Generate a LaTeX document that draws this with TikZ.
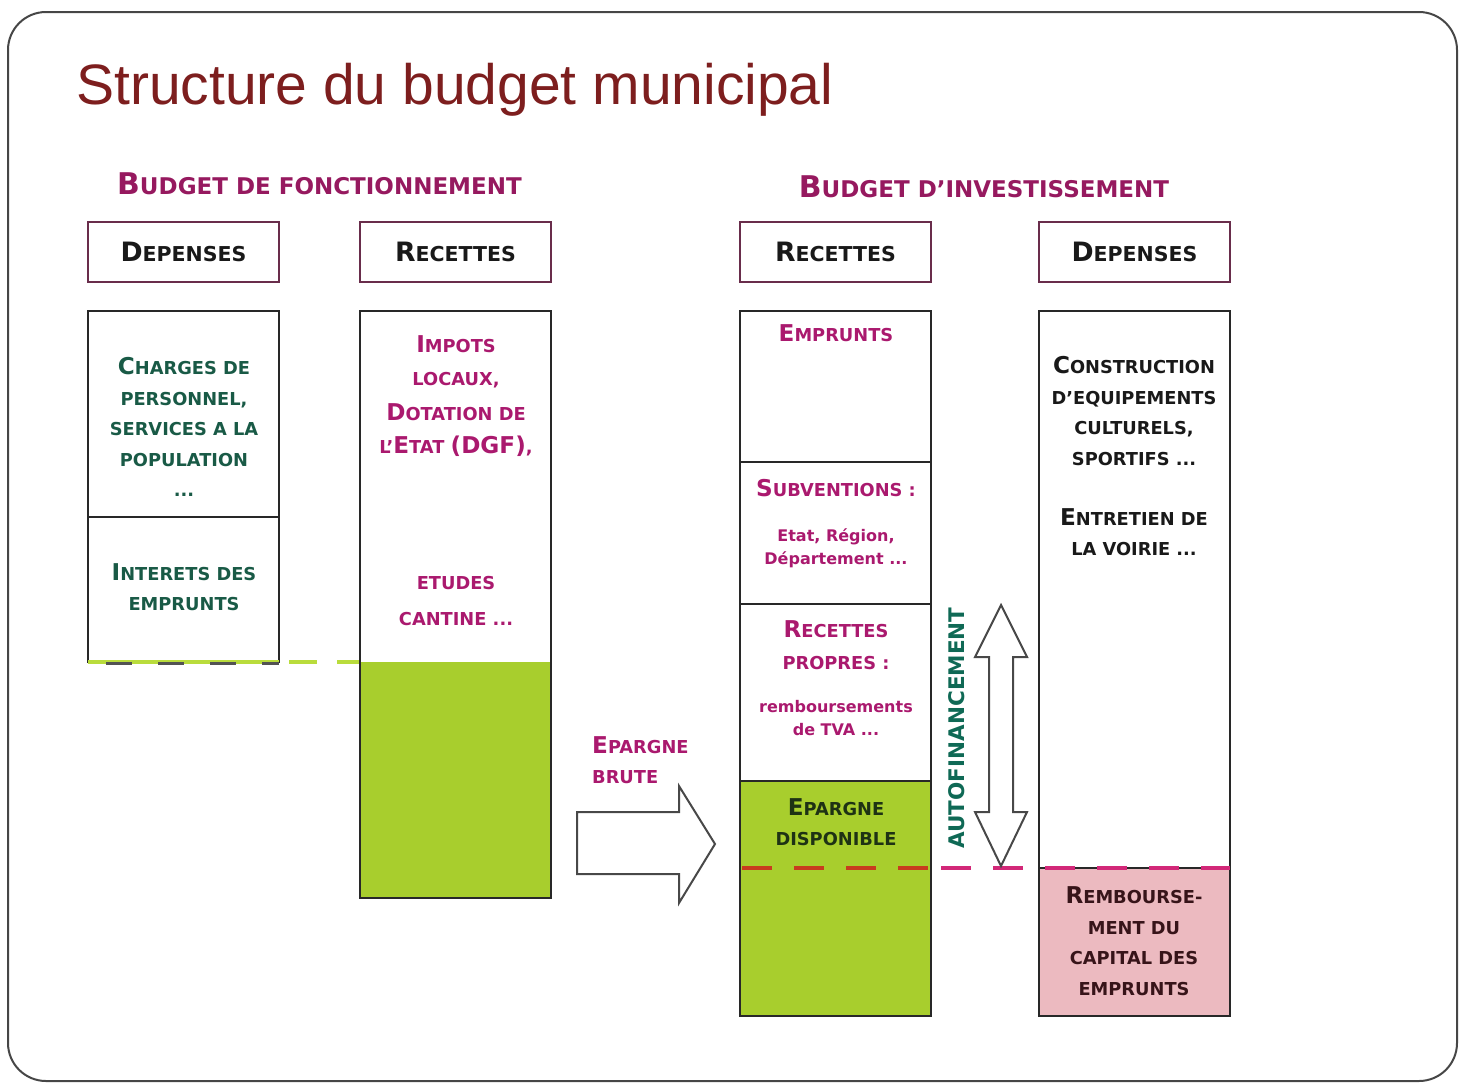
\documentclass[tikz,border=0pt]{standalone}
\usepackage{fontspec}
\setmainfont{DejaVu Sans}
\newfontfamily\titlefont{Liberation Sans}
\definecolor{titlered}{RGB}{125,30,30}
\definecolor{hdmag}{RGB}{150,25,95}
\definecolor{txmag}{RGB}{170,25,110}
\definecolor{txgreen}{RGB}{25,90,70}
\definecolor{autogreen}{RGB}{15,105,85}
\definecolor{fillgreen}{RGB}{168,206,45}
\definecolor{fillpink}{RGB}{236,186,192}
\definecolor{colline}{RGB}{40,40,40}
\definecolor{boxline}{RGB}{105,45,75}
\definecolor{dashgreen}{RGB}{185,220,60}
\definecolor{dashred}{RGB}{200,60,30}
\definecolor{dashpink}{RGB}{210,40,120}
\definecolor{framegray}{RGB}{70,70,70}
\definecolor{txdark}{RGB}{25,25,25}
\definecolor{txbrown}{RGB}{55,20,25}
\definecolor{txolive}{RGB}{30,50,20}
\newcommand\Bg[1]{\scalebox{1.3}{#1}}
\begin{document}
\begin{tikzpicture}[x=1pt,y=-1pt,
  hbox/.style={draw=boxline,line width=2.4pt,minimum width=191pt,minimum height=60pt,inner sep=0pt,
    font=\fontsize{20.5}{24}\selectfont\bfseries,text=txdark},
  ctext/.style={align=center,inner sep=0pt,font=\fontsize{17.8}{30.5}\selectfont\bfseries},
  stext/.style={align=center,inner sep=0pt,font=\fontsize{16}{23}\selectfont\bfseries},
  ttext/.style={inner sep=0pt,font=\fontsize{23}{26}\selectfont\bfseries,text=hdmag},
  colbox/.style={draw=colline,line width=2.6pt},
  blockarrow/.style={draw=colline!85,line width=2pt,fill=white,line join=miter}
]
\useasboundingbox (0,0) rectangle (1464,1084);
% slide frame
\draw[framegray,line width=2pt,rounded corners=38pt] (8,12) rectangle (1457,1081);
% title
\node[anchor=base west,inner sep=0pt,font=\titlefont\fontsize{57}{60}\selectfont,text=titlered] (title) at (76,104) {Structure du budget municipal};
% section titles
\node[ttext] (tfonct) at (319.5,184) {\Bg{B}UDGET DE FONCTIONNEMENT};
\node[ttext] (tinv) at (984,187) {\Bg{B}UDGET D’INVESTISSEMENT};
% header boxes
\node[hbox] (h1) at (183.5,252) {\Bg{D}EPENSES};
\node[hbox] (h2) at (455.5,252) {\Bg{R}ECETTES};
\node[hbox] (h3) at (835.5,252) {\Bg{R}ECETTES};
\node[hbox] (h4) at (1134.5,252) {\Bg{D}EPENSES};
% fills
\fill[fillgreen] (360,662) rectangle (551,898);
\fill[fillgreen] (740,781) rectangle (931,1016);
\fill[fillpink] (1039,868) rectangle (1230,1016);
% column 1
\draw[colbox] (88,663) -- (88,311) -- (279,311) -- (279,663);
\draw[colbox] (88,517) -- (279,517);
\draw[dashgreen,line width=4pt] (88,662) -- (279,662);
\draw[colline!80,line width=3pt,dash pattern=on 26pt off 26pt,dash phase=-18pt] (88,663) -- (279,663);
\draw[dashgreen,line width=4pt,dash pattern=on 28pt off 20pt,dash phase=-10pt] (279,662) -- (360,662);
% column 2
\draw[colbox] (360,311) rectangle (551,898);
% column 3
\draw[colbox] (740,311) rectangle (931,1016);
\draw[colbox] (740,462) -- (931,462);
\draw[colbox] (740,604) -- (931,604);
\draw[colbox] (740,781) -- (931,781);
% column 4
\draw[colbox] (1039,311) rectangle (1230,1016);
\draw[colline,line width=1.5pt] (1039,868) -- (1230,868);
% dashed levels
\draw[dashred,line width=4pt,dash pattern=on 30pt off 22pt] (742,868) -- (931,868);
\draw[dashpink,line width=4pt,dash pattern=on 30pt off 22pt,dash phase=-10pt] (931,868) -- (1230,868);
% column 1 texts
\node[ctext,text=txgreen] (c1a) at (184,427) {\Bg{C}HARGES DE\\PERSONNEL,\\SERVICES A LA\\POPULATION\\...};
\node[ctext,text=txgreen] (c1b) at (184,587) {\Bg{I}NTERETS DES\\EMPRUNTS};
% column 2 texts
\node[ctext,text=txmag,font=\fontsize{17.8}{33}\selectfont\bfseries] (c2a) at (456,396) {\Bg{I}MPOTS\\LOCAUX,\\[2pt]\Bg{D}OTATION DE\\L’\Bg{E}TAT \Bg{(DGF)},};
\node[ctext,text=txmag,font=\fontsize{17.8}{36}\selectfont\bfseries] (c2b) at (456,601) {ETUDES\\CANTINE ...};
% column 3 texts
\node[ctext,text=txmag] (c3a) at (836,333) {\Bg{E}MPRUNTS};
\node[ctext,text=txmag] (c3b) at (836,488) {\Bg{S}UBVENTIONS :};
\node[stext,text=txmag] (c3c) at (836,548) {Etat, Région,\\Département ...};
\node[ctext,text=txmag,font=\fontsize{17.8}{32}\selectfont\bfseries] (c3d) at (836,645) {\Bg{R}ECETTES\\PROPRES :};
\node[stext,text=txmag] (c3e) at (836,718) {remboursements\\de TVA ...};
\node[ctext,text=txolive] (c3f) at (836,822) {\Bg{E}PARGNE\\DISPONIBLE};
% column 4 texts
\node[ctext,text=txdark] (c4a) at (1134,411) {\Bg{C}ONSTRUCTION\\D’EQUIPEMENTS\\CULTURELS,\\SPORTIFS ...};
\node[ctext,text=txdark] (c4b) at (1134,532) {\Bg{E}NTRETIEN DE\\LA VOIRIE ...};
\node[ctext,text=txbrown] (c4c) at (1134,941) {\Bg{R}EMBOURSE-\\MENT DU\\CAPITAL DES\\EMPRUNTS};
% epargne brute arrow
\node[ctext,text=txmag,align=left,anchor=west] (eb) at (592,760) {\Bg{E}PARGNE\\BRUTE};
\draw[blockarrow] (577,812) -- (679,812) -- (679,786) -- (715,844) -- (679,903) -- (679,874) -- (577,874) -- cycle;
% autofinancement double arrow
\draw[blockarrow] (1001,605) -- (1027,657) -- (1013,657) -- (1013,812) -- (1027,812) -- (1001,866) -- (975,812) -- (989,812) -- (989,657) -- (975,657) -- cycle;
\node[rotate=90,inner sep=0pt,font=\fontsize{21.5}{24}\selectfont\bfseries,text=autogreen] (auto) at (957,728) {AUTOFINANCEMENT};
\end{tikzpicture}
\end{document}
